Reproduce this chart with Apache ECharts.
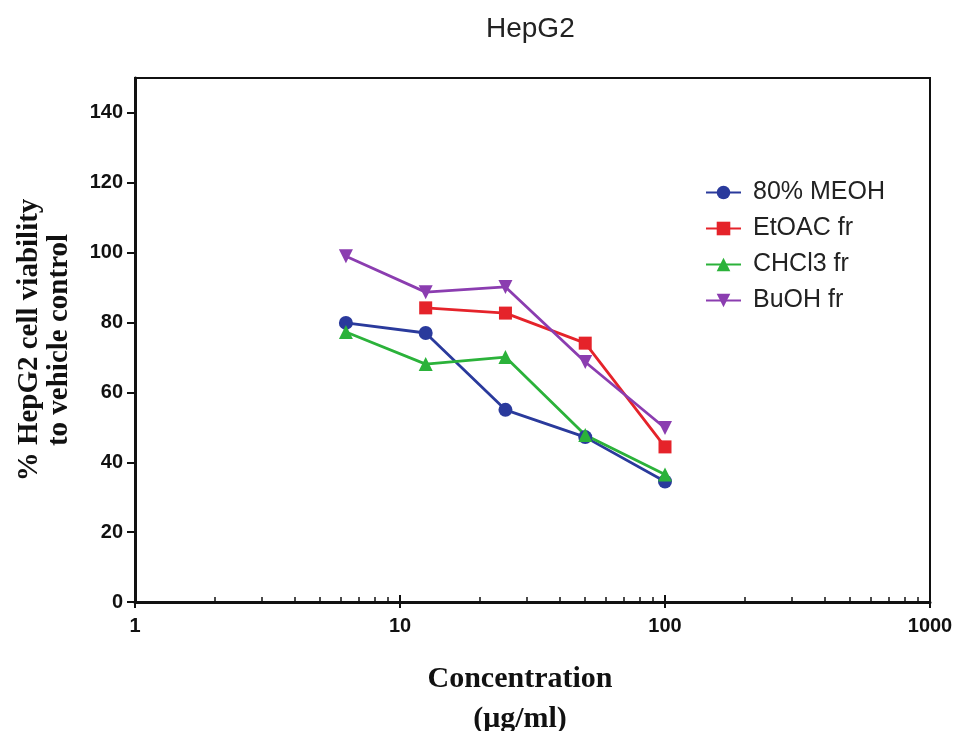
<!DOCTYPE html>
<html><head><meta charset="utf-8">
<script src="https://cdn.jsdelivr.net/npm/echarts@6/dist/echarts.min.js"></script>
<style>html,body{margin:0;padding:0;background:#fff}#c{width:957px;height:731px}</style>
</head><body><div id="c"></div>
<script>
const concentrations = [6.25, 12.5, 25, 50, 100];
const meoh = [79.9, 77, 55, 47.2, 34.5];
const etoac = [null, 84.2, 82.7, 74.1, 44.4];
const chcl3 = [77.3, 68.1, 70.1, 47.8, 36.5];
const buoh = [99, 88.7, 90.2, 68.7, 49.8];
const seriesNames = ['80% MEOH', 'EtOAC fr', 'CHCl3 fr', 'BuOH fr'];
const yTicks = [0, 20, 40, 60, 80, 100, 120, 140];
const xTicks = [1, 10, 100, 1000];

function pairs(vals){ return concentrations.map((c,i)=>[c, vals[i]]).filter(p=>p[1]!==null); }

const colors = ['#2a3a9c', '#e5232a', '#2bb23a', '#8b3db0'];
const symbols = ['circle', 'rect', 'triangle', 'triangle'];
const rotations = [0, 0, 0, 180];
const data = [meoh, etoac, chcl3, buoh];

const chart = echarts.init(document.getElementById('c'));
chart.setOption({
  animation: false,
  backgroundColor: '#fff',
  title: { text: 'HepG2', left: 481, top: 10, textStyle: { fontFamily: 'Liberation Sans', fontWeight: 'normal', fontSize: 28, color: '#222' } },
  legend: {
    orient: 'vertical', left: 700, top: 175, itemGap: 11, itemWidth: 35, itemHeight: 17,
    data: seriesNames,
    textStyle: { fontFamily: 'Liberation Sans', fontSize: 25, lineHeight: 25, color: '#222', padding: [0,0,0,7] }
  },
  grid: { left: 135, right: 27, top: 78, bottom: 129, outerBoundsMode: 'none', containLabel: false, show: true, borderColor: '#111', borderWidth: 2 },
  xAxis: [{
    type: 'log', logBase: 10, min: 1, max: 1000,
    axisLine: { lineStyle: { color: '#111', width: 3 } },
    axisTick: { inside: true, length: 7, lineStyle: { color: '#111', width: 2 } },
    minorTick: { show: true, splitNumber: 9, length: 5, lineStyle: { color: '#111', width: 1.5 } },
    splitLine: { show: false },
    axisLabel: { margin: 14, fontFamily: 'Liberation Sans', fontWeight: 'bold', fontSize: 20, color: '#111', showMinLabel: true, showMaxLabel: true,
      formatter: v => String(Math.round(v)) },
    name: 'Concentration\n(μg/ml)', nameLocation: 'middle', nameGap: 57,
    nameTextStyle: { fontFamily: 'Liberation Serif', fontWeight: 'bold', fontSize: 30, color: '#111', lineHeight: 40, padding: [0,25,0,0] }
  }, {
    type: 'log', logBase: 10, min: 1, max: 1000, position: 'bottom',
    axisLine: { show: false },
    axisTick: { inside: false, length: 6, lineStyle: { color: '#111', width: 2 } },
    axisLabel: { show: false }, splitLine: { show: false }
  }],
  yAxis: {
    type: 'value', min: 0, max: 150, interval: 20,
    axisLine: { show: true, lineStyle: { color: '#111', width: 3 } },
    axisTick: { show: true, length: 8, lineStyle: { color: '#111', width: 2 }, customValues: yTicks },
    splitLine: { show: false },
    axisLabel: { margin: 12, fontFamily: 'Liberation Sans', fontWeight: 'bold', fontSize: 20, color: '#111', customValues: yTicks },
    name: '% HepG2 cell viability\nto vehicle control', nameLocation: 'middle', nameGap: 60,
    nameTextStyle: { fontFamily: 'Liberation Serif', fontWeight: 'bold', fontSize: 29, color: '#111', lineHeight: 30 }
  },
  series: seriesNames.map((n, i) => ({
    name: n, type: 'line', xAxisIndex: 0, data: pairs(data[i]),
    symbol: symbols[i], symbolRotate: rotations[i], symbolSize: i===1 ? 13 : 14,
    color: colors[i],
    lineStyle: { width: 2.8, color: colors[i] },
    itemStyle: { color: colors[i] }
  }))
});
</script></body></html>
